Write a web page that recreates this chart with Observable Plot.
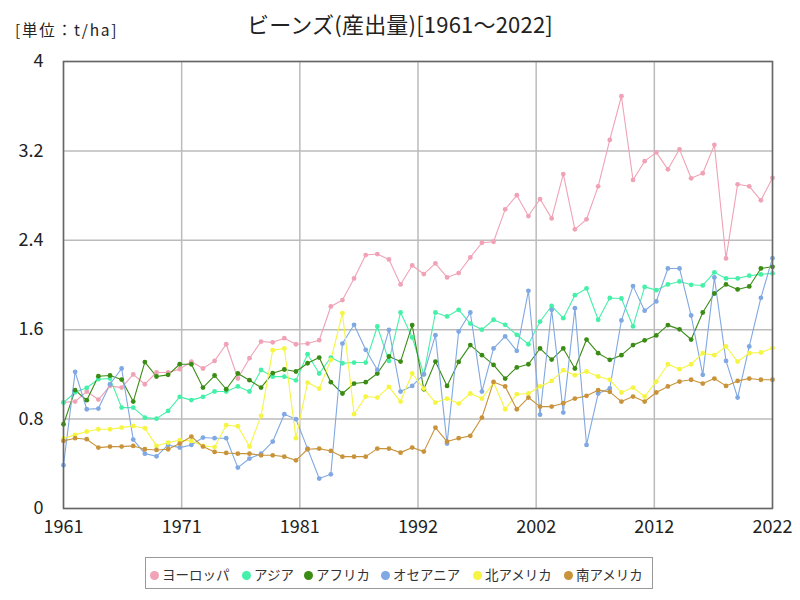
<!DOCTYPE html>
<html><head><meta charset="utf-8">
<script src="https://cdn.jsdelivr.net/npm/d3@7"></script>
<script src="https://cdn.jsdelivr.net/npm/@observablehq/plot@0.6"></script>
<style>
body{margin:0;background:#fff;font-family:"Noto Sans CJK JP","Noto Sans",sans-serif;}
#wrap{position:relative;width:800px;height:600px;}
#title{position:absolute;left:0;width:800px;top:7px;text-align:center;font-size:22px;color:#222;letter-spacing:0.2px;}
#unit{position:absolute;left:15px;top:18px;font-size:15.5px;color:#222;letter-spacing:1.8px;}
#legend{position:absolute;left:145px;top:557px;width:508px;height:32px;border:1px solid #999;box-sizing:border-box;font-size:13.5px;color:#333;}
.item{position:absolute;top:6px;white-space:nowrap;}
.dot{display:inline-block;width:9px;height:9px;border-radius:50%;margin-right:3px;vertical-align:-0px;}
</style></head>
<body><div id="wrap"><div id="chart"></div><div id="title">ビーンズ(産出量)[1961～2022]</div><div id="unit">[単位：t/ha]</div><div id="legend"></div></div>
<script>
const years = d3.range(1961, 2023);
const seriesNames = ["ヨーロッパ","アジア","アフリカ","オセアニア","北アメリカ","南アメリカ"];
const colors = ["#f0a2b6","#45f0a8","#3a8c14","#80a8e2","#f5f542","#c8933a"];
const europe = [0.95,0.957,1.047,0.975,1.097,1.082,1.20,1.112,1.217,1.217,1.247,1.315,1.253,1.321,1.47,1.163,1.345,1.494,1.487,1.524,
 1.47,1.476,1.506,1.808,1.865,2.059,2.268,2.277,2.229,2.005,2.175,2.098,2.193,2.068,2.107,2.247,2.378,2.387,2.677,2.803,2.617,
 2.769,2.596,2.993,2.498,2.588,2.883,3.298,3.689,2.94,3.108,3.187,3.035,3.214,2.955,3.0,3.254,2.238,2.901,2.883,2.758,2.958];
const asia = [0.948,1.04,1.08,1.157,1.163,0.903,0.903,0.813,0.804,0.873,0.999,0.97,0.999,1.047,1.047,1.092,1.047,1.24,1.18,1.18,
 1.147,1.381,1.208,1.351,1.30,1.306,1.306,1.629,1.321,1.754,1.53,1.202,1.754,1.719,1.778,1.655,1.60,1.689,1.644,1.554,1.47,
 1.673,1.812,1.703,1.909,1.969,1.689,1.884,1.879,1.629,1.983,1.954,2.005,2.032,2.002,1.996,2.113,2.059,2.059,2.083,2.095,2.104];
const africa = [0.754,1.059,0.969,1.184,1.19,1.154,0.957,1.31,1.181,1.196,1.291,1.291,1.082,1.19,1.067,1.208,1.148,1.082,1.211,1.244,
 1.226,1.30,1.351,1.13,1.029,1.118,1.13,1.208,1.36,1.315,1.641,1.067,1.315,1.097,1.312,1.462,1.372,1.285,1.163,1.262,1.291,
 1.432,1.333,1.432,1.253,1.512,1.39,1.33,1.372,1.462,1.505,1.549,1.641,1.603,1.512,1.754,1.924,2.005,1.96,1.987,2.148,2.163];
const oceania = [0.387,1.223,0.888,0.894,1.112,1.253,0.617,0.491,0.467,0.569,0.545,0.569,0.635,0.629,0.629,0.366,0.447,0.491,0.599,0.844,
 0.799,0.536,0.268,0.306,1.476,1.644,1.42,1.241,1.599,1.046,1.097,1.2,1.551,0.581,1.584,1.754,1.046,1.432,1.54,1.411,1.948,
 0.84,1.778,0.858,1.793,0.569,1.029,1.074,1.683,1.99,1.77,1.853,2.148,2.148,1.727,1.196,2.067,1.321,0.993,1.45,1.885,2.24];
const northAmerica = [0.627,0.659,0.689,0.709,0.709,0.724,0.739,0.718,0.56,0.59,0.611,0.605,0.56,0.55,0.745,0.736,0.555,0.829,1.417,1.432,
 0.629,1.127,1.073,1.33,1.748,0.844,1.002,0.993,1.088,0.957,1.208,1.073,0.948,0.984,0.939,1.029,0.984,1.127,0.888,1.023,1.029,
 1.092,1.142,1.238,1.193,1.226,1.181,1.152,1.038,1.082,1.002,1.136,1.291,1.247,1.291,1.39,1.372,1.45,1.315,1.39,1.396,1.436];
const southAmerica = [0.605,0.629,0.62,0.545,0.554,0.554,0.56,0.53,0.524,0.53,0.581,0.644,0.554,0.506,0.497,0.491,0.491,0.476,0.476,0.464,
 0.431,0.53,0.536,0.515,0.464,0.464,0.464,0.536,0.536,0.5,0.545,0.509,0.724,0.599,0.629,0.65,0.814,1.133,1.092,0.888,0.993,
 0.912,0.912,0.942,0.984,1.008,1.059,1.044,0.957,1.002,0.957,1.038,1.092,1.136,1.152,1.118,1.163,1.097,1.142,1.163,1.152,1.152];
const yTicks = [0,0.8,1.6,2.4,3.2,4];
const xTicks = d3.range(7).map(k => 1961 + k*61/6);

const allSeries = [europe, asia, africa, oceania, northAmerica, southAmerica];
const rows = [];
allSeries.forEach((vals, si) => vals.forEach((v, i) => rows.push({series: seriesNames[si], year: years[i], value: v})));

const tickFont = '"Noto Sans CJK JP","Noto Sans",sans-serif';
const chart = Plot.plot({
  width: 800, height: 600,
  marginLeft: 63, marginRight: 28, marginTop: 61, marginBottom: 92,
  style: {fontFamily: tickFont, fontSize: "18px", color: "#222", background: "#fff"},
  x: {domain: [1961, 2022]},
  y: {domain: [0, 4]},
  color: {domain: seriesNames, range: colors},
  marks: [
    Plot.gridX(xTicks, {stroke: "#bbb", strokeOpacity: 1, strokeWidth: 1.5}),
    Plot.gridY(yTicks, {stroke: "#bbb", strokeOpacity: 1, strokeWidth: 1.5}),
    Plot.axisX(xTicks, {tickSize: 0, tickPadding: 12, tickFormat: d => String(Math.round(d)), label: null, fontSize: 18}),
    Plot.axisY(yTicks, {tickSize: 0, tickPadding: 20, tickFormat: d => String(d), label: null, fontSize: 18}),
    Plot.line(rows, {x: "year", y: "value", z: "series", stroke: "series", strokeWidth: 1.1}),
    Plot.dot(rows, {x: "year", y: "value", fill: "series", r: 2.4}),
    Plot.frame({stroke: "#666", strokeWidth: 1.5})
  ]
});
document.getElementById("chart").appendChild(chart);

const legend = document.getElementById("legend");
const lefts = [4, 96, 158, 235, 327, 418];
seriesNames.forEach((n, i) => {
  const it = document.createElement("div");
  it.className = "item";
  it.style.left = lefts[i] + "px";
  it.innerHTML = `<span class="dot" style="background:${colors[i]}"></span>${n}`;
  legend.appendChild(it);
});
</script></body></html>
